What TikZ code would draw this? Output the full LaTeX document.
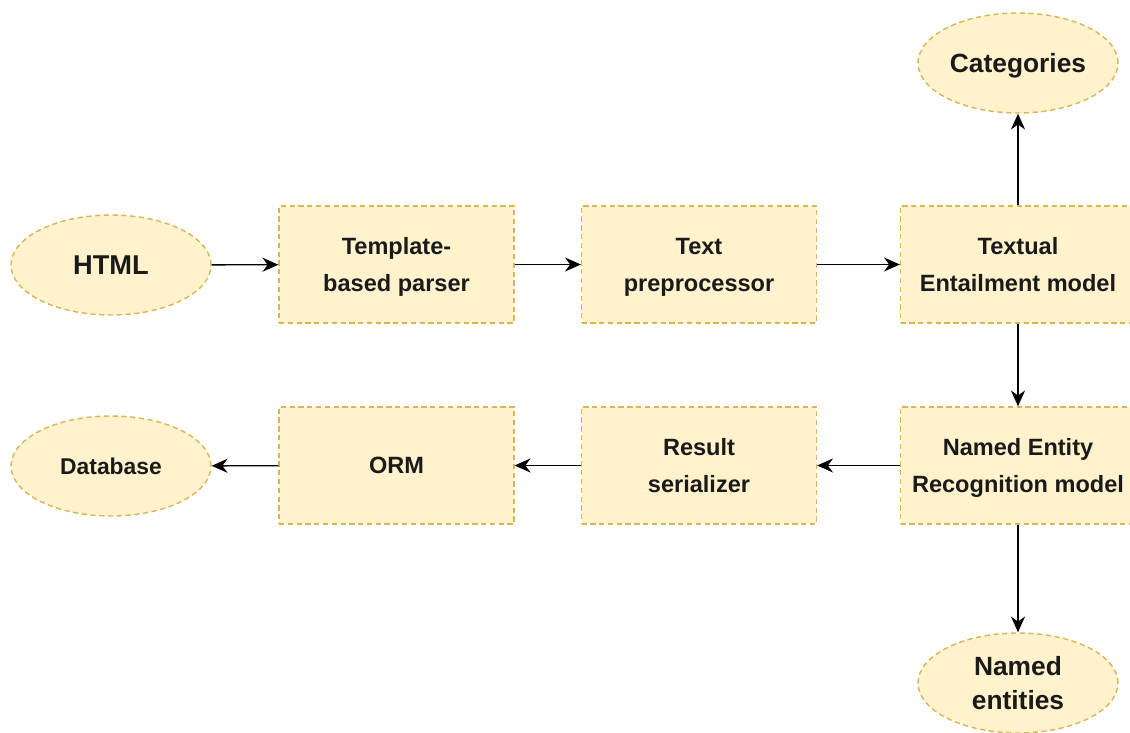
\documentclass[tikz,border=0pt]{standalone}
\usepackage{fontspec}
\setmainfont{Liberation Sans}
\usetikzlibrary{shapes.geometric,arrows.meta}
\definecolor{boxfill}{HTML}{FFF2CC}
\definecolor{boxline}{HTML}{D6B656}
\definecolor{txt}{HTML}{1A1A1A}
\tikzset{
	stage/.style={draw=boxline,fill=boxfill,line width=0.8pt,dash pattern=on 3pt off 2pt,
		minimum width=4.7cm,minimum height=2.34cm,inner sep=0pt,align=center,text depth=0pt,
		text=txt,font=\bfseries\fontsize{13.4}{21}\selectfont},
	blob/.style={ellipse,draw=boxline,fill=boxfill,line width=0.8pt,dash pattern=on 3pt off 2pt,
		minimum width=4cm,minimum height=2cm,inner sep=0pt,align=center,text depth=0pt,text=txt},
	arr/.style={-{Stealth[length=9pt,width=8pt]},line width=0.8pt}
}
\begin{document}
\begin{tikzpicture}[x=0.02cm,y=-0.02cm]
		\useasboundingbox (0,0) rectangle (1130,733);
		% first row
		\node[blob,font=\bfseries\fontsize{15.5}{19}\selectfont] (html) at (111,265) {HTML};
		\node[stage] (parser) at (396.5,264.5) {Template-\\based parser};
		\node[stage] (prep) at (699,264.5) {Text\\preprocessor};
		\node[stage] (te) at (1018,264.5) {Textual\\Entailment model};
		\node[blob,font=\bfseries\fontsize{15}{19}\selectfont] (cat) at (1018,63) {Categories};
		% second row
		\node[stage] (ner) at (1018,465.5) {Named Entity\\Recognition model};
		\node[stage] (ser) at (699,465.5) {Result\\serializer};
		\node[stage] (orm) at (396.5,465.5) {ORM};
		\node[blob,font=\bfseries\fontsize{13}{19}\selectfont] (db) at (111,466) {Database};
		\node[blob,font=\bfseries\fontsize{15}{19}\selectfont] (ne) at (1018,683) {Named\\entities};
		% connectors
		\draw[arr] (html) -- (parser);
		\draw[arr] (parser) -- (prep);
		\draw[arr] (prep) -- (te);
		\draw[arr] (te) -- (cat);
		\draw[arr] (te) -- (ner);
		\draw[arr] (ner) -- (ser);
		\draw[arr] (ser) -- (orm);
		\draw[arr] (orm) -- (db);
		\draw[arr] (ner) -- (ne);
		\end{tikzpicture}
\end{document}
